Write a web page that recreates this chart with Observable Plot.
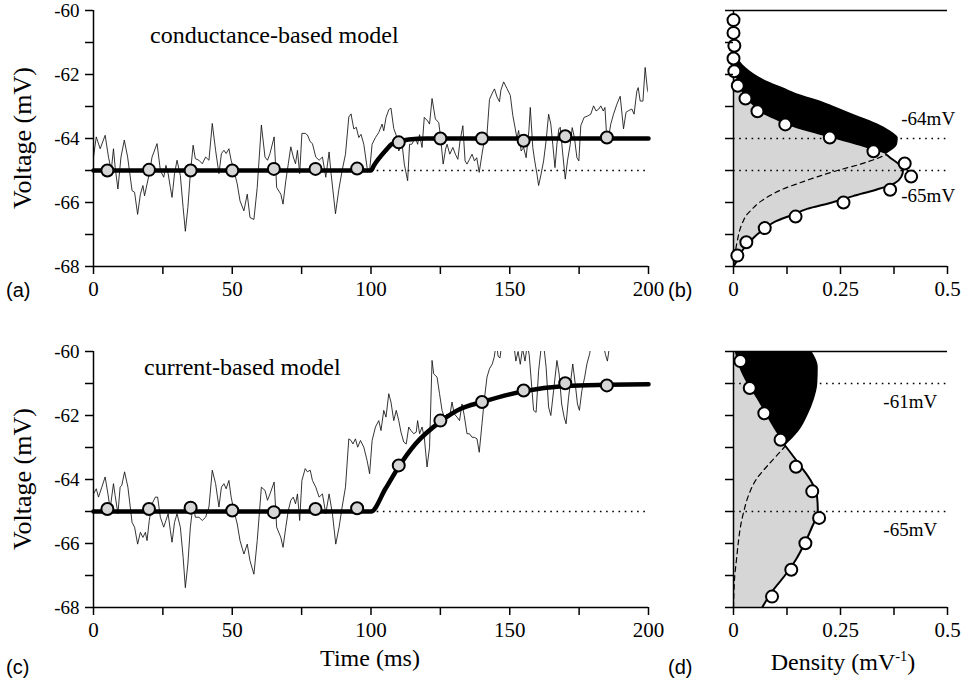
<!DOCTYPE html>
<html><head><meta charset="utf-8">
<script src="https://cdn.jsdelivr.net/npm/d3@7"></script>
<script src="https://cdn.jsdelivr.net/npm/@observablehq/plot@0.6"></script>
<style>
body{margin:0;background:#fff;}
#fig{position:relative;width:962px;height:694px;overflow:hidden;font-family:"Liberation Serif",serif;color:#000;}
#fig svg{position:absolute;overflow:visible;font-family:"Liberation Serif",serif !important;}
#fig svg text, #fig svg g{font-family:"Liberation Serif",serif !important;}
.lab{position:absolute;white-space:nowrap;line-height:1;}
.sans{font-family:"Liberation Sans",sans-serif;}
sup{font-size:0.6em;vertical-align:0.6em;line-height:0;}
</style></head><body><div id="fig"></div>
<script>
// ---------- data ----------
const yTicks = [-68,-67,-66,-65,-64,-63,-62,-61,-60];
const timeTicks = [0,25,50,75,100,125,150,175,200];
const timeLabels = [0,50,100,150,200];
const densTicks = [0,0.125,0.25,0.375,0.5];
const densLabels = {0:"0",0.25:"0.25",0.5:"0.5"};

// noisy trace, conductance-based model (t ms, V mV)
const noiseA = [[0,-64.58],[1,-63.95],[2.4,-64.32],[4.2,-63.9],[5.4,-64.58],[6.4,-65.0],[7.2,-64.32],[7.8,-64.9],[8.8,-65.58],[9.9,-64.58],[11.1,-64.05],[12.3,-64.58],[13.9,-65.63],[14.8,-65.68],[15.9,-66.37],[16.9,-65.74],[17.8,-65.47],[18.4,-65.79],[19.3,-65.42],[20.1,-65.1],[21.1,-64.58],[22.9,-64.16],[24.1,-65.0],[25.3,-65.21],[26.1,-64.84],[26.9,-65.1],[27.7,-65.53],[28.3,-65.84],[29.2,-65.1],[30.1,-64.68],[31.3,-65.16],[32.3,-66.16],[33.1,-66.9],[34,-66.16],[34.9,-65.1],[35.9,-64.21],[36.7,-64.63],[38,-64.68],[39.2,-64.79],[40.4,-64.58],[41.6,-64.68],[42.8,-63.53],[44,-64.37],[45.2,-65.1],[46.1,-64.47],[47,-64.37],[47.8,-64.47],[48.8,-64.32],[49.6,-64.68],[50.6,-65.0],[51.8,-65.42],[52.8,-65.95],[54.2,-66.26],[55.4,-65.74],[56.4,-66.47],[57.8,-66.53],[59,-65.53],[60.5,-63.58],[61.8,-64.58],[62.7,-64.68],[63.6,-64.47],[65.1,-63.95],[66,-65.53],[67.5,-65.74],[68.3,-66.05],[69.3,-65.32],[70.2,-64.79],[71.1,-64.26],[72,-64.58],[72.8,-64.79],[73.5,-64.37],[74.3,-65.1],[75.1,-63.84],[76.3,-63.84],[77.1,-63.89],[78.1,-64.1],[78.9,-64.16],[80.1,-64.58],[81.3,-64.68],[82.5,-64.58],[83.7,-65.21],[84.9,-64.42],[85.5,-65.0],[87.2,-66.35],[88.4,-65.6],[89.6,-65.0],[90.8,-64.49],[92,-63.33],[92.8,-63.23],[93.8,-63.7],[94.7,-63.65],[95.6,-63.97],[96.4,-63.87],[97.4,-64.18],[98.6,-64.91],[99.5,-65.0],[100.4,-64.18],[101.6,-63.97],[102.8,-63.81],[104,-63.55],[104.6,-63.76],[105.4,-63.35],[106.4,-63.1],[107.2,-63.05],[108.2,-63.69],[109.1,-63.9],[110,-64.39],[111.2,-64.18],[112,-64.8],[113.2,-65.32],[113.9,-64.18],[114.7,-64.18],[116,-63.97],[116.8,-64.18],[117.5,-63.88],[118.4,-64.28],[119.2,-63.34],[120.4,-63.45],[121.1,-63.55],[122,-62.75],[123.2,-63.39],[123.8,-63.45],[124.4,-63.5],[125,-63.9],[126,-64.8],[126.9,-64.33],[127.4,-64.18],[128.4,-64.49],[129.5,-64.28],[130.4,-64.49],[131.3,-64.65],[132.1,-64.07],[133.1,-63.6],[133.9,-64.7],[134.6,-64.8],[135.5,-64.65],[136.4,-64.49],[137.3,-64.7],[138.1,-64.6],[139,-65.06],[140,-64.49],[140.8,-64.07],[141.8,-63.87],[142.7,-62.78],[143.7,-62.58],[144.5,-62.45],[145.4,-62.7],[146.3,-62.85],[146.8,-62.49],[147.8,-62.23],[149,-62.44],[150.2,-62.65],[151.1,-63.28],[152,-63.7],[152.6,-64.0],[153.2,-63.75],[154.1,-64.39],[155,-64.28],[155.9,-64.6],[156.9,-63.75],[157.4,-63.03],[158.3,-64.28],[159,-64.7],[159.8,-65.11],[160.4,-65.47],[161.3,-65.11],[162.2,-64.7],[163.1,-64.07],[164,-63.24],[164.8,-63.55],[165.5,-64.18],[166.3,-64.91],[167,-64.18],[167.7,-63.7],[168.2,-63.65],[169,-64.39],[170,-65.27],[170.8,-64.7],[171.8,-64.18],[172.5,-63.66],[173.3,-63.97],[174.2,-64.6],[174.9,-64.7],[175.6,-63.6],[176.8,-63.34],[178,-63.3],[179.2,-63.24],[180.2,-62.98],[181.1,-63.14],[182.1,-63.08],[182.8,-62.98],[183.7,-63.14],[184.3,-63.03],[184.8,-63.75],[185.6,-63.97],[186.4,-63.55],[187.4,-63.24],[188.6,-62.93],[189.8,-62.68],[191,-63.7],[191.9,-63.18],[192.8,-63.13],[194,-63.08],[194.8,-63.24],[195.8,-62.52],[196.3,-62.41],[197,-62.83],[198,-62.83],[198.8,-61.78],[199.6,-62.46],[200,-62.58]];

// noisy trace, current-based model
const noiseC = [[0,-64.45],[1,-64.29],[1.8,-64.55],[3,-64.24],[4.2,-63.92],[5.2,-64.45],[6,-64.92],[7.2,-64.13],[7.8,-64.5],[8.8,-65.07],[9.6,-64.24],[10.2,-64.18],[11.2,-63.76],[12.4,-64.24],[13.9,-65.34],[14.8,-65.49],[15.9,-66.02],[16.9,-65.65],[17.8,-65.81],[18.7,-65.65],[19.3,-65.91],[20.1,-65.28],[21.1,-64.76],[22.3,-64.55],[23.1,-64.55],[24.1,-65.18],[25.3,-65.49],[26.1,-65.28],[26.9,-65.07],[27.7,-65.6],[28.3,-65.96],[29.2,-65.34],[30.1,-65.07],[31.3,-65.49],[32.3,-66.43],[33.1,-67.38],[34,-66.64],[34.9,-65.49],[35.9,-64.76],[36.7,-65.18],[38,-65.18],[39.2,-65.28],[40.4,-65.18],[41.6,-64.86],[42.8,-63.71],[44,-64.13],[45.2,-64.86],[46.1,-64.24],[47,-64.13],[47.8,-64.29],[48.8,-64.03],[49.6,-64.55],[50.6,-64.97],[51.8,-65.39],[52.8,-65.91],[54.2,-66.33],[55.4,-66.02],[56.4,-66.54],[57.8,-66.96],[59,-65.91],[60.5,-64.24],[61.8,-64.34],[62.7,-64.65],[63.6,-64.45],[65.1,-64.08],[66,-65.49],[67.5,-65.81],[68.3,-66.12],[69.3,-65.49],[70.2,-64.97],[71.1,-64.65],[72,-64.55],[72.8,-64.76],[73.5,-64.45],[74.3,-65.28],[75.1,-64.03],[76.3,-63.66],[77.1,-63.76],[78.1,-63.71],[78.9,-64.03],[80.1,-64.24],[81.3,-64.55],[82.5,-64.45],[83.7,-65.07],[84.9,-64.45],[86.1,-65.07],[87.3,-66.02],[88.5,-65.49],[89.6,-64.86],[90.8,-64.24],[92,-62.73],[92.8,-62.78],[93.5,-62.89],[94.4,-62.73],[95.2,-62.99],[96.2,-62.78],[97.4,-62.99],[98.6,-63.41],[99.5,-63.82],[100.4,-62.78],[101.6,-62.36],[102.8,-62.16],[103.6,-62.47],[104.6,-61.84],[105.4,-62.05],[106.4,-61.32],[107.2,-61.58],[108.2,-62.16],[109.1,-61.84],[110,-62.16],[110.8,-62.52],[111.8,-62.83],[112.7,-62.89],[113.6,-62.36],[114.4,-62.47],[115.4,-62.57],[116.3,-62.52],[116.8,-62.16],[117.5,-62.57],[118.4,-62.36],[119.2,-62.68],[120.2,-63.61],[121.1,-62.99],[122,-60.28],[122.6,-60.7],[123.8,-60.8],[124.7,-61.32],[125.6,-61.84],[126.4,-62.05],[127.4,-61.95],[128.3,-62.05],[129.2,-61.58],[130,-61.95],[131,-62.05],[131.9,-62.16],[132.8,-61.64],[133.6,-62.0],[134.6,-62.57],[135.5,-62.57],[136.4,-62.68],[137.2,-62.68],[138.2,-62.73],[139,-63.15],[140,-62.26],[140.8,-61.53],[141.8,-60.8],[142.7,-60.54],[143.7,-60.39],[144.4,-60.18],[145.2,-59.7],[145.8,-60.15],[146.5,-60.2],[147.3,-59.6],[148.5,-59.3],[149.5,-59.5],[150.5,-59.6],[151.5,-59.8],[152.2,-60.3],[153,-60.0],[153.8,-60.4],[154.6,-59.9],[155.5,-60.3],[156.3,-59.8],[157,-60.1],[158.6,-61.84],[159.5,-61.9],[160.4,-60.6],[161.2,-59.97],[162,-59.6],[163.1,-60.49],[164,-61.74],[164.8,-62.0],[165.8,-61.22],[167,-60.28],[167.8,-60.7],[168.7,-61.64],[169.6,-62.05],[170.3,-62.26],[171.2,-61.43],[172,-60.9],[172.7,-60.39],[173.6,-61.01],[174.4,-61.64],[175.1,-61.84],[176,-61.22],[177,-60.8],[177.8,-60.39],[178.8,-60.07],[179.6,-59.6],[180.5,-59.4],[181.5,-59.6],[182.5,-59.5],[183.5,-59.7],[184.5,-60.1],[185.2,-60.3],[186,-59.8],[187,-59.5],[188.5,-59.3],[190,-59.4],[192,-59.2],[194,-59.5],[196,-59.3],[198,-59.1],[200,-59.3]];

// mean (model) curves
const modelA = [[0,-65],[100,-65],[101,-64.85],[102.8,-64.63],[105.2,-64.38],[107.6,-64.17],[110,-64.1],[113.6,-64.03],[120,-64.0],[200,-64.0]];
const modelC = [[0,-65],[100,-65],[105.2,-64.29],[110,-63.6],[116,-62.89],[125,-62.19],[132.3,-61.79],[140,-61.58],[155,-61.24],[170,-61.08],[185,-61.04],[200,-61.02]];

// simulation points (grey circles)
const circT = [5,20,35,50,65,80,95,110,125,140,155,170,185];
const circA = [-65,-64.98,-65,-65,-64.95,-64.95,-64.94,-64.12,-64.0,-64.0,-64.07,-63.93,-63.97];
const circC = [-64.92,-64.92,-64.88,-64.97,-65.02,-64.92,-64.9,-63.56,-62.16,-61.58,-61.22,-60.99,-61.06];

// density panel (b): voltage grid, density before (d1) and after (d2)
const vB  = [-68,-67.8,-67.6,-67.4,-67.2,-67.0,-66.8,-66.6,-66.4,-66.2,-66.0,-65.8,-65.6,-65.4,-65.2,-65.0,-64.8,-64.6,-64.5,-64.4,-64.2,-64.0,-63.8,-63.6,-63.4,-63.2,-63.0,-62.8,-62.6,-62.4,-62.2,-62.0,-61.8,-61.6,-61.4,-61.2,-61.0];
const d1B = [0,0.009,0.016,0.026,0.04,0.055,0.075,0.097,0.135,0.172,0.23,0.279,0.333,0.376,0.392,0.396,0.386,0.366,0.357,0.335,0.285,0.23,0.175,0.128,0.094,0.065,0.048,0.032,0.022,0.014,0.009,0.005,0.003,0.001,0,0,0];
const d2B = [0,0.002,0.004,0.006,0.009,0.012,0.016,0.022,0.03,0.044,0.06,0.083,0.112,0.152,0.195,0.243,0.297,0.34,0.357,0.368,0.383,0.385,0.37,0.345,0.31,0.272,0.235,0.195,0.148,0.113,0.077,0.05,0.03,0.016,0.006,0.002,0];
const crossB = -64.5;
const circBv = [-60.3,-60.7,-61.1,-61.5,-61.9,-62.35,-62.75,-63.15,-63.56,-63.97,-64.4,-64.78,-65.19,-65.6,-66.0,-66.44,-66.8,-67.24,-67.66];
const circBd = [0,0,0.002,0,0.002,0.01,0.028,0.056,0.121,0.225,0.327,0.40,0.415,0.366,0.257,0.145,0.073,0.03,0.009];
const levelsB = [-64,-65];
const labelsB = [{v:-63.39,d:0.392,s:"-64mV"},{v:-65.78,d:0.392,s:"-65mV"}];

// density panel (d)
const vD  = [-68,-67.5,-67,-66.5,-66,-65.5,-65,-64.5,-64,-63.5,-63,-62.95,-62.5,-62,-61.5,-61,-60.5,-60];
const d1D = [0.067,0.09,0.12,0.146,0.166,0.183,0.197,0.195,0.179,0.152,0.124,0.121,0.099,0.077,0.056,0.032,0.014,0.004];
const d2D = [0,0.001,0.003,0.007,0.011,0.016,0.024,0.035,0.053,0.084,0.118,0.121,0.153,0.174,0.189,0.197,0.198,0.183];
const crossD = -62.95;
const circDv = [-60.3,-61.14,-61.93,-62.76,-63.6,-64.37,-65.2,-65.99,-66.82,-67.66];
const circDd = [0.016,0.038,0.072,0.11,0.146,0.184,0.2,0.168,0.135,0.09];
const levelsD = [-61,-65];
const labelsD = [{v:-61.58,d:0.35,s:"-61mV"},{v:-65.56,d:0.35,s:"-65mV"}];

// ---------- drawing ----------
const fig = document.getElementById("fig");
const SERIF = "Liberation Serif";
const baseStyle = {fontFamily:SERIF, fontSize:"18px", color:"black", background:"transparent", overflow:"visible"};
const GREY = "#d6d6d6";

function place(svg, left, top){ svg.style.left = left+"px"; svg.style.top = top+"px"; fig.appendChild(svg); }

function timePanel(noise, model, circV, mt, mb){
  const circ = circT.map((t,i)=>({t, v:circV[i]}));
  return Plot.plot({
    width:660, height:300, marginLeft:93, marginRight:12, marginTop:mt, marginBottom:mb,
    style: baseStyle,
    x:{domain:[0,200]}, y:{domain:[-68,-60]},
    marks:[
      Plot.ruleY([-65], {x1:100, x2:200, stroke:"black", strokeWidth:1.3, strokeDasharray:"1.6,4.6"}),
      Plot.line(noise, {x:d=>d[0], y:d=>d[1], stroke:"#111", strokeWidth:0.85, clip:true}),
      Plot.line(model, {x:d=>d[0], y:d=>d[1], stroke:"black", strokeWidth:4.5, curve:"monotone-x"}),
      Plot.dot(circ, {x:"t", y:"v", r:6, fill:GREY, stroke:"black", strokeWidth:2}),
      Plot.ruleX([0], {y1:-68, y2:-60, strokeWidth:1.5}),
      Plot.ruleY([-68], {x1:0, x2:200, strokeWidth:1.5}),
      Plot.axisY({ticks:yTicks, tickFormat:d=> d%2===0 ? String(d) : "", tickSize:8, tickPadding:6, strokeWidth:1.5, fontSize:19, fontFamily:SERIF, label:null}),
      Plot.axisX({ticks:timeTicks, tickFormat:d=> timeLabels.includes(d) ? String(d) : "", tickSize:8, tickPadding:7, strokeWidth:1.5, fontSize:21, fontFamily:SERIF, label:null})
    ]
  });
}

function densPanel(vs, d1, d2, cross, cv, cd, levels, labels, mt, mb){
  const tab = vs.map((v,i)=>({v, d1:d1[i], d2:d2[i]}));
  const upper = tab.filter(d=>d.v>=cross);
  const lower = tab.filter(d=>d.v<=cross);
  const circ = cv.map((v,i)=>({v, d:cd[i]}));
  return Plot.plot({
    width:302, height:300, marginLeft:73, marginRight:15, marginTop:mt, marginBottom:mb,
    style: baseStyle,
    x:{domain:[0,0.5]}, y:{domain:[-68,-60]},
    marks:[
      Plot.areaX(tab, {y:"v", x:"d1", fill:GREY, curve:"monotone-y", clip:true}),
      Plot.ruleY(levels, {stroke:"black", strokeWidth:1.3, strokeDasharray:"1.6,4.6"}),
      Plot.areaX(upper, {y:"v", x1:"d1", x2:"d2", fill:"black", curve:"monotone-y", clip:true}),
      Plot.lineX(lower, {y:"v", x:"d2", stroke:"black", strokeWidth:1.2, strokeDasharray:"5,4", curve:"monotone-y"}),
      Plot.lineX(lower, {y:"v", x:"d1", stroke:"black", strokeWidth:2, curve:"monotone-y", clip:true}),
      Plot.ruleX([0], {y1:-68, y2:-60, strokeWidth:1.5}),
      Plot.ruleY([-68, -60], {x1:0, x2:0.5, strokeWidth:1.5}),
      Plot.dot(circ, {x:"d", y:"v", r:6, fill:"white", stroke:"black", strokeWidth:2}),
      Plot.text(labels, {x:"d", y:"v", text:"s", textAnchor:"start", fontSize:19, fontFamily:SERIF}),
      Plot.axisY({ticks:yTicks, tickFormat:()=>"", tickSize:8, strokeWidth:1.5, label:null}),
      Plot.axisX({ticks:densTicks, tickFormat:d=> densLabels[d] ?? "", tickSize:8, tickPadding:7, strokeWidth:1.5, fontSize:21, fontFamily:SERIF, label:null})
    ]
  });
}

place(timePanel(noiseA, modelA, circA, 10, 34), 0, 0);
place(densPanel(vB, d1B, d2B, crossB, circBv, circBd, levelsB, labelsB, 10, 34), 660, 0);
place(timePanel(noiseC, modelC, circC, 11, 33), 0, 340);
place(densPanel(vD, d1D, d2D, crossD, circDv, circDd, levelsD, labelsD, 11, 33), 660, 340);

// ---------- text ----------
function label(html, css, cls){
  const el = document.createElement("div");
  el.className = "lab" + (cls ? " "+cls : "");
  el.innerHTML = html;
  Object.assign(el.style, css);
  fig.appendChild(el);
}
label("Voltage (mV)", {left:"23px", top:"138px", fontSize:"26px", transform:"translate(-50%,-50%) rotate(-90deg)"});
label("Voltage (mV)", {left:"23px", top:"479px", fontSize:"26px", transform:"translate(-50%,-50%) rotate(-90deg)"});
label("conductance-based model", {left:"150px", top:"23px", fontSize:"24px"});
label("current-based model", {left:"144px", top:"355px", fontSize:"24px"});
label("Time (ms)", {left:"370px", top:"646px", fontSize:"24px", transform:"translateX(-50%)"});
label("Density (mV<sup>-1</sup>)", {left:"843px", top:"650px", fontSize:"24px", transform:"translateX(-50%)"});
label("(a)", {left:"6px", top:"290px", fontSize:"20px", transform:"translateY(-50%)"}, "sans");
label("(b)", {left:"668px", top:"290px", fontSize:"20px", transform:"translateY(-50%)"}, "sans");
label("(c)", {left:"6px", top:"667px", fontSize:"20px", transform:"translateY(-50%)"}, "sans");
label("(d)", {left:"668px", top:"667px", fontSize:"20px", transform:"translateY(-50%)"}, "sans");
</script></body></html>
